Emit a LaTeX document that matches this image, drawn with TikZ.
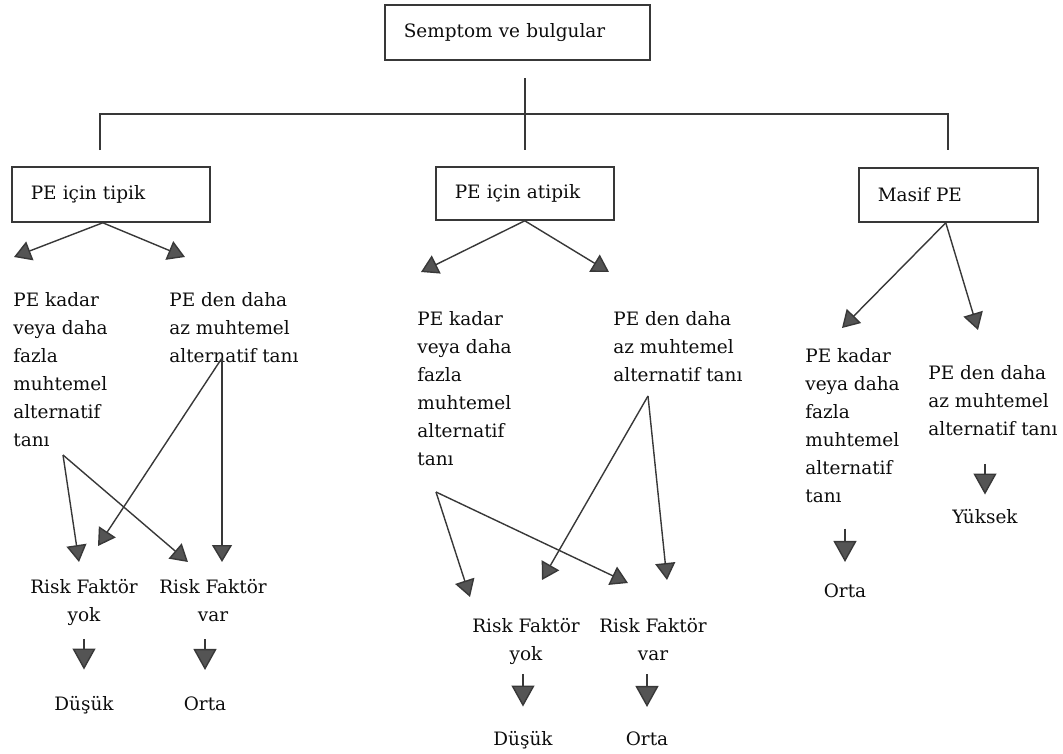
\documentclass[tikz,border=0pt]{standalone}
\usepackage{fontspec}
\setmainfont{DejaVu Serif}
\usetikzlibrary{arrows.meta}

\definecolor{ink}{gray}{0.22}
\definecolor{headgray}{gray}{0.33}

\tikzset{
  box/.style={draw=ink, line width=0.9pt, inner xsep=0.38cm, inner ysep=0pt, align=left, anchor=west},
  txt/.style={inner sep=0pt, align=left, anchor=north west},
  rf/.style={inner sep=0pt, align=center, anchor=north},
  res/.style={inner sep=0pt, anchor=base},
  conn/.style={draw=ink, line width=0.8pt},
  arr/.style={conn, -{Triangle[length=0.34cm, width=0.4cm, fill=headgray]}},
  darr/.style={conn, -{Triangle[length=0.42cm, width=0.46cm, fill=headgray]}}
}

\begin{document}
\begin{tikzpicture}[x=0.02cm, y=-0.02cm, font=\fontsize{10.5}{15.9}\selectfont, text=black!95]
\useasboundingbox (0,0) rectangle (1063,754);

% kutular
\node[box, text width=4.54cm, minimum height=1.1cm] (semptom) at (384,32.5) {Semptom ve bulgular};
\node[box, text width=3.2cm, minimum height=1.1cm] (tipik) at (11,194.5) {PE için tipik};
\node[box, text width=2.8cm, minimum height=1.06cm] (atipik) at (435,193.5) {PE için atipik};
\node[box, text width=2.82cm, minimum height=1.08cm] (masif) at (858,195) {Masif PE};

% ust baglanti
\coordinate (hubtop) at (525,78);
\coordinate (hubbot) at (525,150);
\coordinate (hubL) at (100,114);
\coordinate (hubR) at (948,114);
\draw[conn] (hubtop) -- (hubbot);
\draw[conn] (hubL |- hubbot) -- (hubL) -- (hubR) -- (hubR |- hubbot);

% tipik
\node[txt] (kadar1) at (13,292) {PE kadar\\veya daha\\fazla\\muhtemel\\alternatif\\tanı};
\node[txt] (az1) at (169,292) {PE den daha\\az muhtemel\\alternatif tanı};
\node[rf] (yok1) at (84,579) {Risk Faktör\\yok};
\node[rf] (var1) at (213,579) {Risk Faktör\\var};
\node[res] (dusuk1) at (84,710) {Düşük};
\node[res] (orta1) at (205,710) {Orta};

\coordinate (t1a) at (14,257);
\coordinate (t1b) at (185,257);
\coordinate (s1a) at (63,455);
\coordinate (s1b) at (222,358);
\coordinate (y1a) at (79,562);
\coordinate (y1b) at (98,546);
\coordinate (v1a) at (188,562);
\coordinate (v1b) at (222,562);
\draw[arr] ([xshift=-0.16cm]tipik.south) -- (t1a);
\draw[arr] ([xshift=-0.16cm]tipik.south) -- (t1b);
\draw[arr] (s1a) -- (y1a);
\draw[arr] (s1a) -- (v1a);
\draw[arr] (s1b) -- (v1b);
\draw[arr] (s1b) -- (y1b);
\draw[darr, shorten <=0.26cm, shorten >=0.52cm] (dusuk1.north |- yok1.south) -- (dusuk1.north);
\draw[darr, shorten <=0.34cm, shorten >=0.52cm] (orta1.north |- var1.south) -- (orta1.north);

% atipik
\node[txt] (kadar2) at (417,311) {PE kadar\\veya daha\\fazla\\muhtemel\\alternatif\\tanı};
\node[txt] (az2) at (613,311) {PE den daha\\az muhtemel\\alternatif tanı};
\node[rf] (yok2) at (526,618) {Risk Faktör\\yok};
\node[rf] (var2) at (653,618) {Risk Faktör\\var};
\node[res] (dusuk2) at (523,745) {Düşük};
\node[res] (orta2) at (647,745) {Orta};

\coordinate (t2a) at (421,272);
\coordinate (t2b) at (609,272);
\coordinate (s2a) at (436,492);
\coordinate (s2b) at (648,396);
\coordinate (y2a) at (470,597);
\coordinate (v2a) at (628,583);
\coordinate (y2b) at (542,580);
\coordinate (v2b) at (667,580);
\draw[arr] (atipik.south) -- (t2a);
\draw[arr] (atipik.south) -- (t2b);
\draw[arr] (s2a) -- (y2a);
\draw[arr] (s2a) -- (v2a);
\draw[arr] (s2b) -- (v2b);
\draw[arr] (s2b) -- (y2b);
\draw[darr, shorten <=0.18cm, shorten >=0.48cm] (dusuk2.north |- yok2.south) -- (dusuk2.north);
\draw[darr, shorten <=0.26cm, shorten >=0.48cm] (orta2.north |- var2.south) -- (orta2.north);

% masif
\node[txt] (kadar3) at (805,348) {PE kadar\\veya daha\\fazla\\muhtemel\\alternatif\\tanı};
\node[txt] (az3) at (928,365) {PE den daha\\az muhtemel\\alternatif tanı};
\node[res] (orta3) at (845,597) {Orta};
\node[res] (yuksek3) at (985,523) {Yüksek};

\coordinate (t3a) at (842,328);
\coordinate (t3b) at (978,330);
\draw[arr] ([xshift=-0.05cm]masif.south) -- (t3a);
\draw[arr] ([xshift=-0.05cm]masif.south) -- (t3b);
\draw[darr, shorten <=0.52cm, shorten >=0.42cm] (orta3.north |- kadar3.south) -- (orta3.north);
\draw[darr, shorten <=0.56cm, shorten >=0.28cm] (yuksek3.north |- az3.south) -- (yuksek3.north);
\end{tikzpicture}
\end{document}
